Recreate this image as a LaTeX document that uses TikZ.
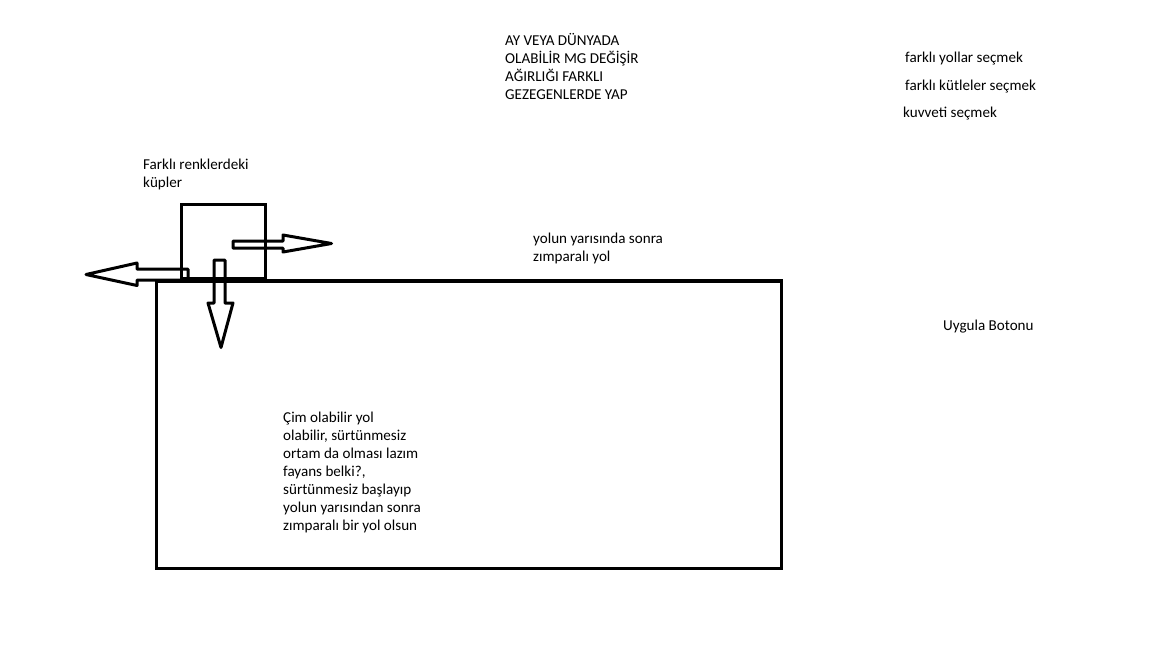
\documentclass[tikz,border=0pt]{standalone}
\usepackage{fontspec}
\setmainfont{Carlito}
\usetikzlibrary{positioning}

\begin{document}
\begin{tikzpicture}[
    x=1pt, y=-1pt,
    note/.style={
      anchor=base west, inner sep=0pt, align=left,
      font=\fontsize{15.1}{18}\selectfont
    },
    road/.style={draw, line width=3.8pt},
    cube/.style={draw, line width=3pt},
    force/.style={draw, line width=3pt, line join=round}
  ]
    \useasboundingbox (0,0) rectangle (1152,648);

    % Road (large rectangle)
    \draw[road] (156.5,281) rectangle (781.5,568.5);

    % Cube sitting on the road
    \draw[cube] (181,204) rectangle (265,278);

    % Force arrows (outlined block arrows)
    \draw[force] (233,241) -- (283,241) -- (283,235) -- (331.5,243.5)
      -- (283,252) -- (283,248) -- (233,248) -- cycle;
    \draw[force] (188,269) -- (137,269) -- (137,263) -- (86,274.5)
      -- (137,285.5) -- (137,280) -- (188,280) -- cycle;
    \draw[force] (214,260) -- (225,260) -- (225,303) -- (233,303)
      -- (221,347.5) -- (208,303) -- (214,303) -- cycle;

    % Notes
    \node[note] (planets) at (505,99.7)
      {AY VEYA DÜNYADA\\OLABİLİR MG DEĞİŞİR\\AĞIRLIĞI FARKLI\\GEZEGENLERDE YAP};
    \node[note] (choosePath) at (905,62.7) {farklı yollar seçmek};
    \node[note] (chooseMass) at (905,90) {farklı kütleler seçmek};
    \node[note] (chooseForce) at (903,117.3) {kuvveti seçmek};
    \node[note] (cubesLabel) at (143,187.7) {Farklı renklerdeki\\küpler};
    \node[note] (roughLabel) at (533,261.7) {yolun yarısında sonra\\zımparalı yol};
    \node[note] (applyBtn) at (943,330) {Uygula Botonu};
    \node[note] (surfaceNote) at (283,530)
      {Çim olabilir yol\\olabilir, sürtünmesiz\\ortam da olması lazım\\fayans belki?,\\sürtünmesiz başlayıp\\yolun yarısından sonra\\zımparalı bir yol olsun};
  \end{tikzpicture}
\end{document}
